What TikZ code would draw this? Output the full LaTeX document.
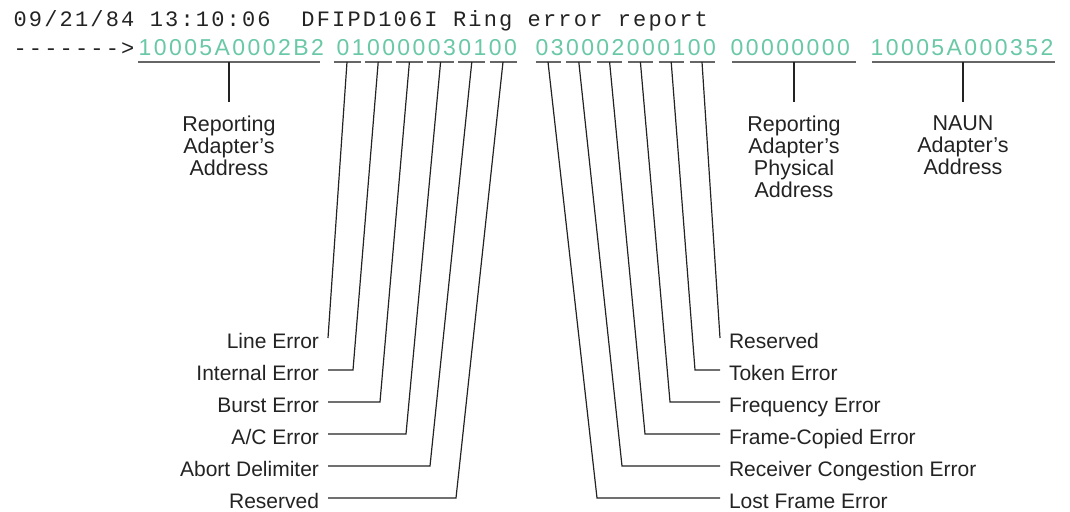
\documentclass[tikz,border=0pt]{standalone}
\usepackage{fontspec}
\setmainfont{Liberation Sans}
\newfontfamily\termfont[LetterSpace=9.9]{Liberation Mono}
\newfontfamily\hexfont[LetterSpace=10.6]{Liberation Sans}
\usetikzlibrary{positioning, calc}
\definecolor{hexgreen}{RGB}{105,200,165}
\definecolor{inkgray}{RGB}{35,35,35}

\begin{document}
\begin{tikzpicture}[x=0.5pt, y=-0.5pt, line width=0.6pt, draw=inkgray,
    term/.style={font=\termfont\fontsize{11}{13}\selectfont, text=inkgray, inner sep=0pt, anchor=base west},
    hex/.style={font=\hexfont\fontsize{11.5}{13}\selectfont, text=hexgreen, inner sep=0pt, anchor=base west},
    field/.style={font=\fontsize{10.75}{11}\selectfont, text=inkgray, align=center, inner sep=0pt, outer ysep=7pt, anchor=north},
    errl/.style={font=\fontsize{10.5}{12}\selectfont, text=inkgray, inner sep=0pt, outer xsep=4.5pt, text height=10.5pt, text depth=0pt},
    uline/.style={draw=black!60, line width=0.75pt}]
  \useasboundingbox (0,0) rectangle (1070,512);
  % console lines
  \node[term] (hdr) at (13,27) {09/21/84 13:10:06\ \ DFIPD106I Ring error report};
  \node[term] (arrow) at (13,56) {-{}-{}-{}-{}-{}-{}->};
  % address fields
  \node[hex] (rpt)  at (138,56) {10005A0002B2};
  \node[hex] (iso)  at (336,56) {010000030100};
  \node[hex] (niso) at (535,56) {030002000100};
  \node[hex] (phys) at (730,56) {00000000};
  \node[hex] (naun) at (870,56) {10005A000352};
  % underlines
  \draw[uline] (138,62) -- (320,62);
  \draw[uline] (732,62) -- (856,62);
  \draw[uline] (872,62) -- (1055,62);
  \coordinate (rpta) at (229,62);
  \coordinate (physa) at (794,62);
  \coordinate (nauna) at (963,62);
  \foreach \k in {0,...,5} {
    \pgfmathsetmacro{\ax}{347+\k*31.2}
    \pgfmathsetmacro{\bx}{548+\k*30.8}
    \draw[uline] (\ax-13.5,62) -- (\ax+13.5,62);
    \draw[uline] (\bx-12.5,62) -- (\bx+12.5,62);
    \coordinate (ia\k) at (\ax,62);
    \coordinate (na\k) at (\bx,62);
  }
  % field labels
  \node[field] (rptl)  at (229,102) {Reporting\\Adapter's\\Address};
  \node[field] (physl) at (794,102) {Reporting\\Adapter's\\Physical\\Address};
  \node[field] (naunl) at (963,102) {NAUN\\Adapter's\\Address};
  \draw (rpta) -- (rptl);
  \draw (physa) -- (physl);
  \draw (nauna) -- (naunl);
  % error counters
  \foreach \t [count=\i from 0] in {Line Error, Internal Error, Burst Error, {A/C Error}, Abort Delimiter, Reserved}
    \node[errl, anchor=east] (ie\i) at (328,{338+\i*32}) {\t};
  \foreach \t [count=\i from 0] in {Reserved, Token Error, Frequency Error, Frame-Copied Error, Receiver Congestion Error, Lost Frame Error}
    \node[errl, anchor=west] (ne\i) at (720,{338+\i*32}) {\t};
  \foreach \k/\dx in {0/0, 1/25, 2/52, 3/78, 4/102, 5/128}
    \draw (ia\k) -- ($(ie\k.east)+(\dx,0)$) -- (ie\k.east);
  \foreach \k/\dx in {0/123, 1/98, 2/75, 3/50, 4/25, 5/0} {
    \pgfmathtruncatemacro{\r}{5-\k}
    \draw (na\k) -- ($(ne\r.west)-(\dx,0)$) -- (ne\r.west);
  }
\end{tikzpicture}
\end{document}
